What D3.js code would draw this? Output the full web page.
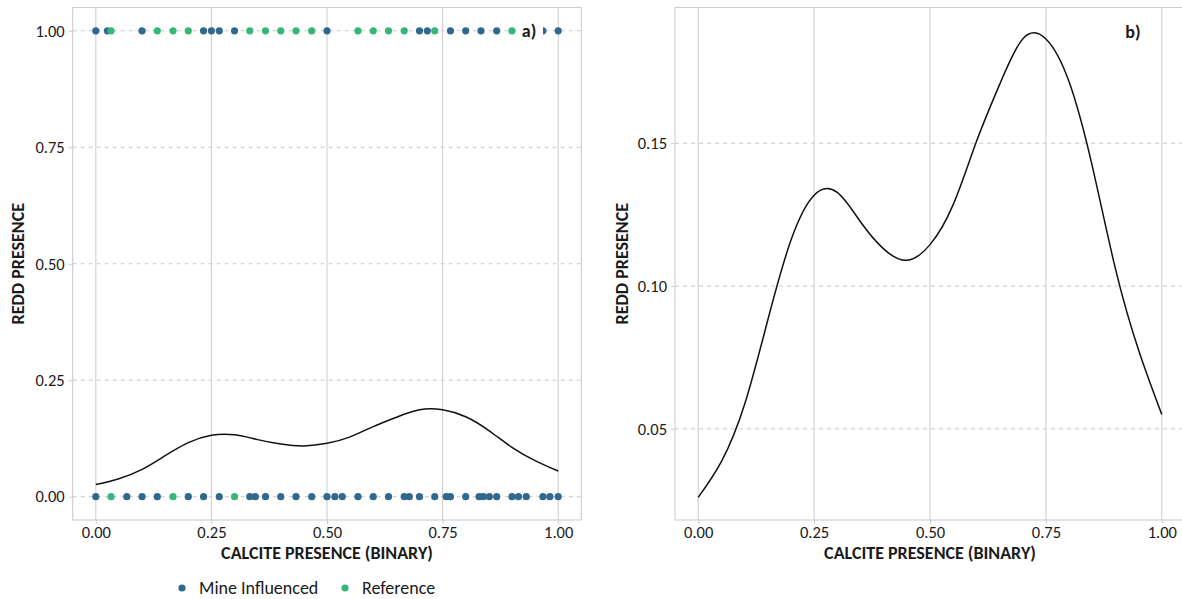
<!DOCTYPE html>
<html>
<head>
<meta charset="utf-8">
<script src="https://cdn.jsdelivr.net/npm/d3@7"></script>
<style>
  html, body { margin: 0; padding: 0; background: #fff; }
  svg { display: block; }
  text { font-family: Carlito, Lato, "Open Sans", sans-serif; fill: #1a1a1a; }
</style>
</head>
<body>
<svg id="chart" width="1182" height="599"></svg>
<script>
// ---- data ----
const mineTopX = [0, 0.025, 0.1, 0.233, 0.25, 0.267, 0.3, 0.5, 0.7, 0.717, 0.767, 0.8, 0.833, 0.867, 0.967, 1.0];
const refTopX = [0.033, 0.133, 0.167, 0.2, 0.333, 0.367, 0.4, 0.433, 0.467, 0.567, 0.6, 0.633, 0.667, 0.733, 0.9];
const mineBottomX = [0, 0.067, 0.1, 0.133, 0.2, 0.233, 0.267, 0.333, 0.345, 0.367, 0.4, 0.433, 0.467, 0.5, 0.517, 0.533, 0.567, 0.6, 0.633, 0.667, 0.678, 0.7, 0.733, 0.758, 0.767, 0.8, 0.829, 0.838, 0.851, 0.867, 0.9, 0.914, 0.931, 0.967, 0.982, 1.0];
const refBottomX = [0.033, 0.167, 0.3];
const curveX = [0, 0.05, 0.10, 0.15, 0.20, 0.25, 0.30, 0.35, 0.40, 0.45, 0.50, 0.55, 0.60, 0.65, 0.70, 0.75, 0.80, 0.85, 0.90, 0.95, 1.00];
const curveY = [0.026, 0.0385, 0.0585, 0.088, 0.116, 0.1318, 0.1328, 0.1225, 0.113, 0.109, 0.1145, 0.1285, 0.1505, 0.1705, 0.1865, 0.1865, 0.1715, 0.142, 0.106, 0.0775, 0.055];
const xTicks = [0, 0.25, 0.5, 0.75, 1.0];
const yTicksA = [0, 0.25, 0.5, 0.75, 1.0];
const yTicksB = [0.05, 0.10, 0.15];
const groups = ["Mine Influenced", "Reference"];
const colors = ["#31688E", "#35B779"];

const svg = d3.select("#chart");
const fmt = d3.format(".2f");
const color = d3.scaleOrdinal().domain(groups).range(colors);
const FONT = "Carlito, Lato, 'Open Sans', sans-serif";

function panel(opts) {
  const { left, right, top, bottom, yDomain, yTicks, yTitleX, label } = opts;
  const x = d3.scaleLinear().domain([-0.05, 1.05]).range([left, right]);
  const y = d3.scaleLinear().domain(yDomain).range([bottom, top]);
  const g = svg.append("g");

  const clipId = "clip" + label.replace(")", "");
  svg.append("clipPath").attr("id", clipId)
    .append("rect").attr("x", left).attr("y", top).attr("width", right - left).attr("height", bottom - top);
  const plot = g.append("g").attr("clip-path", `url(#${clipId})`);

  plot.selectAll(".vg").data(xTicks).join("line")
    .attr("x1", d => x(d)).attr("x2", d => x(d)).attr("y1", top).attr("y2", bottom)
    .attr("stroke", "#d0d0d0").attr("stroke-width", 1.1);
  plot.selectAll(".hg").data(yTicks).join("line")
    .attr("x1", left).attr("x2", right).attr("y1", d => y(d)).attr("y2", d => y(d))
    .attr("stroke", "#c8c8c8").attr("stroke-width", 1).attr("stroke-dasharray", "4,4");

  g.append("rect").attr("x", left).attr("y", top).attr("width", right - left).attr("height", bottom - top)
    .attr("fill", "none").attr("stroke", "#cccccc").attr("stroke-width", 1.1);

  const xAxis = g.append("g").attr("transform", `translate(0,${bottom})`)
    .call(d3.axisBottom(x).tickValues(xTicks).tickFormat(fmt).tickSize(4).tickPadding(2).tickSizeOuter(0));
  const yAxis = g.append("g").attr("transform", `translate(${left},0)`)
    .call(d3.axisLeft(y).tickValues(yTicks).tickFormat(fmt).tickSize(4).tickPadding(4).tickSizeOuter(0));
  [xAxis, yAxis].forEach(a => {
    a.select(".domain").remove();
    a.selectAll(".tick line").attr("stroke", "#cccccc");
    a.selectAll(".tick text").attr("font-size", 16.5).attr("fill", "#1a1a1a").style("font-family", FONT);
  });

  g.append("text").attr("x", x(0.5)).attr("y", 559).attr("text-anchor", "middle")
    .attr("font-size", 18).attr("font-weight", "bold").text("CALCITE PRESENCE (BINARY)");
  g.append("text").attr("transform", `translate(${yTitleX},${(top + bottom) / 2}) rotate(-90)`)
    .attr("text-anchor", "middle").attr("font-size", 18).attr("font-weight", "bold").text("REDD PRESENCE");

  return { x, y, g, plot };
}

// ---- panel a ----
const A = panel({ left: 72.7, right: 581.3, top: 7.5, bottom: 520, yDomain: [-0.05, 1.05], yTicks: yTicksA, yTitleX: 24, label: "a)" });
const line = (x, y) => d3.line().x((d, i) => x(curveX[i])).y(d => y(d)).curve(d3.curveNatural);
A.plot.append("path").datum(curveY).attr("d", line(A.x, A.y))
  .attr("fill", "none").attr("stroke", "#111").attr("stroke-width", 1.5);

const pts = [];
mineTopX.forEach(v => pts.push({ x: v, y: 1, g: groups[0] }));
refTopX.forEach(v => pts.push({ x: v, y: 1, g: groups[1] }));
mineBottomX.forEach(v => pts.push({ x: v, y: 0, g: groups[0] }));
refBottomX.forEach(v => pts.push({ x: v, y: 0, g: groups[1] }));
A.plot.selectAll(".pt").data(pts).join("circle")
  .attr("cx", d => A.x(d.x)).attr("cy", d => A.y(d.y)).attr("r", 3.6)
  .attr("fill", d => color(d.g));

A.g.append("rect").attr("x", 518).attr("y", 20).attr("width", 25).attr("height", 23).attr("fill", "#fff");
A.g.append("text").attr("x", 529).attr("y", A.y(1)).attr("dy", "0.35em").attr("text-anchor", "middle")
  .attr("font-size", 18).attr("font-weight", "bold").text("a)");

// ---- panel b ----
const B = panel({ left: 675, right: 1185, top: 7.5, bottom: 520, yDomain: [0.0181, 0.1975], yTicks: yTicksB, yTitleX: 628, label: "b)" });
B.plot.append("path").datum(curveY).attr("d", line(B.x, B.y))
  .attr("fill", "none").attr("stroke", "#111").attr("stroke-width", 1.5);
B.g.append("text").attr("x", 1133).attr("y", 32).attr("dy", "0.35em").attr("text-anchor", "middle")
  .attr("font-size", 18).attr("font-weight", "bold").text("b)");

// ---- legend ----
const legX = [182, 345];
const leg = svg.append("g");
groups.forEach((gname, i) => {
  leg.append("circle").attr("cx", legX[i]).attr("cy", 588).attr("r", 3.6).attr("fill", color(gname));
  leg.append("text").attr("x", legX[i] + 17).attr("y", 588).attr("dy", "0.35em")
    .attr("font-size", 18).text(gname);
});
</script>
</body>
</html>
